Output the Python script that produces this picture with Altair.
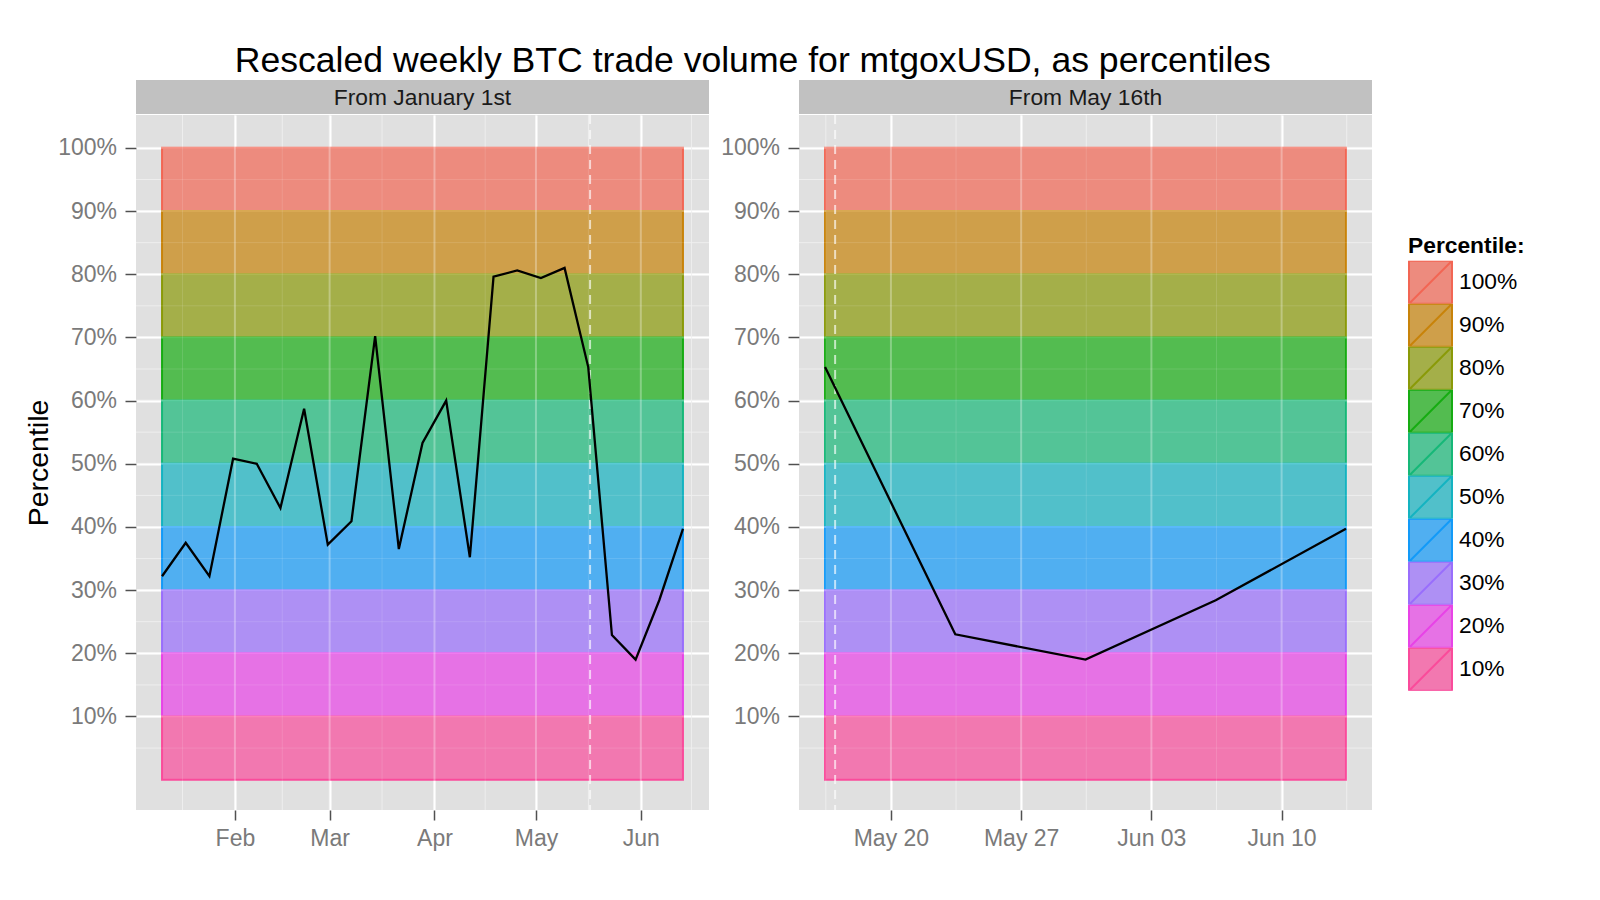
import altair as alt
import pandas as pd

FONT = "Liberation Sans"

# ---- data ----
week_dates = [
    "2013-01-10", "2013-01-17", "2013-01-24", "2013-01-31", "2013-02-07",
    "2013-02-14", "2013-02-21", "2013-02-28", "2013-03-07", "2013-03-14",
    "2013-03-21", "2013-03-28", "2013-04-04", "2013-04-11", "2013-04-18",
    "2013-04-25", "2013-05-02", "2013-05-09", "2013-05-16", "2013-05-23",
    "2013-05-30", "2013-06-06", "2013-06-13",
]
week_pct = [32.2, 37.5, 32.2, 50.8, 50.0, 43.0, 58.7, 37.2, 40.9, 70.2,
            36.5, 53.3, 60.0, 35.2, 79.6, 80.6, 79.4, 81.0, 65.3, 22.9,
            19.0, 28.4, 39.7]

recent_dates = ["2013-05-16", "2013-05-23", "2013-05-30", "2013-06-06", "2013-06-13"]
recent_pct = [65.3, 23.0, 19.0, 28.4, 39.7]

band_labels = ["100%", "90%", "80%", "70%", "60%", "50%", "40%", "30%", "20%", "10%"]
band_low = [90, 80, 70, 60, 50, 40, 30, 20, 10, 0]
band_high = [100, 90, 80, 70, 60, 50, 40, 30, 20, 10]
band_colors = ["#F26654", "#C8830A", "#8A9A08", "#16AC12", "#16B878",
               "#14B3C1", "#129AF8", "#996EFC", "#E843E7", "#FA4B9B"]

cutoff_date = "2013-05-17T00:00:00Z"

y_breaks = [10, 20, 30, 40, 50, 60, 70, 80, 90, 100]
y_minor = [5, 15, 25, 35, 45, 55, 65, 75, 85, 95]

left_breaks = ["2013-02-01", "2013-03-01", "2013-04-01", "2013-05-01", "2013-06-01"]
left_minor = ["2013-01-16T12:00:00Z", "2013-02-15T00:00:00Z", "2013-03-16T12:00:00Z",
              "2013-04-16T00:00:00Z", "2013-05-16T12:00:00Z", "2013-06-16T00:00:00Z"]
right_breaks = ["2013-05-20", "2013-05-27", "2013-06-03", "2013-06-10"]
right_minor = ["2013-05-16T12:00:00Z", "2013-05-23T12:00:00Z", "2013-05-30T12:00:00Z",
               "2013-06-06T12:00:00Z", "2013-06-13T12:00:00Z"]

strip_left = "From January 1st"
strip_right = "From May 16th"
title_text = "Rescaled weekly BTC trade volume for mtgoxUSD, as percentiles"

HOUR = "T11:00:00Z"
W, H, STRIP_H = 573, 695, 34
BG = "#E0E0E0"
STRIP_BG = "#C1C1C1"
ALPHA = 0.7


def blend(hexc, a=ALPHA, bg=(224, 224, 224)):
    c = [int(hexc[i:i + 2], 16) for i in (1, 3, 5)]
    return "#" + "".join("%02X" % round(a * v + (1 - a) * b) for v, b in zip(c, bg))


fill_colors = [blend(c) for c in band_colors]


def ts(s):
    return pd.Timestamp(s if "T" in s else s + "T00:00:00Z")


def dt(s):
    t = ts(s)
    return alt.DateTime(year=t.year, month=t.month, date=t.day,
                        hours=t.hour, minutes=t.minute, utc=True)


def panel(dates, pct, breaks, minor, fmt, show_title):
    d = [x + HOUR for x in dates]
    t0, t1 = ts(d[0]), ts(d[-1])
    ex = (t1 - t0) * 0.05
    dom = [dt((t0 - ex).isoformat()), dt((t1 + ex).isoformat())]
    xscale = alt.Scale(type="utc", domain=dom, nice=False)
    yscale = alt.Scale(domain=[-4.8, 105.2], nice=False, zero=False)

    xaxis = alt.Axis(values=[dt(b) for b in breaks], format=fmt, title=None,
                     grid=True, gridColor="white", gridWidth=2, domain=False,
                     tickColor="#505050", tickSize=10, tickWidth=1.5,
                     labelFont=FONT, labelFontSize=23, labelColor="#7A7A7A",
                     labelPadding=7, labelFlush=False)
    yaxis = alt.Axis(values=y_breaks, labelExpr="datum.value + '%'",
                     title="Percentile" if show_title else None,
                     titleFont=FONT, titleFontSize=28.5, titleFontWeight="normal",
                     titleColor="black", titlePadding=4,
                     grid=True, gridColor="white", gridWidth=2, domain=False,
                     tickColor="#505050", tickSize=11, tickWidth=1.5,
                     labelFont=FONT, labelFontSize=23, labelColor="#7A7A7A",
                     labelPadding=8.5)

    line_df = pd.DataFrame({"date": d, "pct": pct})
    band_df = pd.DataFrame({"label": band_labels, "lo": band_low, "hi": band_high,
                            "start": d[0], "end": d[-1]})
    minor_x_df = pd.DataFrame({"date": minor})
    minor_y_df = pd.DataFrame({"v": y_minor})
    major_x_df = pd.DataFrame({"date": [b + "T00:00:00Z" for b in breaks]})
    major_y_df = pd.DataFrame({"v": y_breaks})
    cut_df = pd.DataFrame({"date": [cutoff_date]})

    X = lambda f: alt.X(f, scale=xscale, axis=xaxis)
    Y = lambda f: alt.Y(f, scale=yscale, axis=yaxis)

    mx = alt.Chart(minor_x_df).mark_rule(color="#ECECEC", strokeWidth=1).encode(x=X("date:T"))
    my = alt.Chart(minor_y_df).mark_rule(color="#ECECEC", strokeWidth=1).encode(y=Y("v:Q"))

    legend = alt.Legend(
        title="Percentile:", titleFont=FONT, titleFontSize=22.8, titleFontWeight="bold",
        titleColor="black", titlePadding=3, labelFont=FONT, labelFontSize=22.8,
        labelColor="black", labelOffset=6,
        symbolType="M-1,-1H1V1H-1Z M-1,1L1,-1", symbolSize=43 * 43,
        symbolStrokeWidth=2, rowPadding=0, clipHeight=43, orient="none",
        legendX=1272, legendY=155)

    bands = alt.Chart(band_df).mark_rect(strokeWidth=2).encode(
        x=X("start:T"),
        x2="end:T",
        y=Y("lo:Q"),
        y2="hi:Q",
        fill=alt.Fill("label:N", scale=alt.Scale(domain=band_labels, range=fill_colors),
                      legend=legend, sort=band_labels),
        stroke=alt.Stroke("label:N", scale=alt.Scale(domain=band_labels, range=band_colors),
                          legend=legend, sort=band_labels),
    )
    # grid showing faintly through the translucent bands
    gx = alt.Chart(major_x_df).mark_rule(color="white", strokeWidth=2, opacity=0.3).encode(
        x=X("date:T"))
    gy = alt.Chart(major_y_df).mark_rule(color="white", strokeWidth=2, opacity=0.3).encode(
        y=Y("v:Q"))
    mx2 = alt.Chart(minor_x_df).mark_rule(color="white", strokeWidth=1, opacity=0.12).encode(
        x=X("date:T"))
    my2 = alt.Chart(minor_y_df).mark_rule(color="white", strokeWidth=1, opacity=0.12).encode(
        y=Y("v:Q"))

    cut = alt.Chart(cut_df).mark_rule(color="white", opacity=0.65, strokeWidth=2,
                                      strokeDash=[9, 6]).encode(x=X("date:T"))
    line = alt.Chart(line_df).mark_line(color="black", strokeWidth=2.3).encode(
        x=X("date:T"), y=Y("pct:Q"))

    return alt.layer(mx, my, bands, gx, gy, mx2, my2, cut, line).properties(
        width=W, height=H, view=alt.ViewBackground(fill=BG, stroke=None))


def strip(text):
    return alt.Chart(pd.DataFrame({"t": [text]})).mark_text(
        font=FONT, fontSize=22.8, color="#1A1A1A", baseline="middle", align="center"
    ).encode(x=alt.value(W / 2), y=alt.value(STRIP_H / 2 + 1), text="t:N").properties(
        width=W, height=STRIP_H, view=alt.ViewBackground(fill=STRIP_BG, stroke=None))


left = alt.vconcat(strip(strip_left),
                   panel(week_dates, week_pct, left_breaks, left_minor, "%b", True),
                   spacing=0)
right = alt.vconcat(strip(strip_right),
                    panel(recent_dates, recent_pct, right_breaks, right_minor, "%b %d", False),
                    spacing=0)

chart = alt.hconcat(left, right, spacing=10).resolve_scale(x="independent").properties(
    title=alt.TitleParams(title_text, font=FONT, fontSize=35.6, fontWeight="normal",
                          color="black", anchor="middle", offset=0, dx=-22),
    padding={"left": 16, "top": 36, "right": 5, "bottom": 5},
    background="white",
).configure_view(stroke=None)

chart.save("out.html", embed_options={"renderer": "svg", "actions": False})
